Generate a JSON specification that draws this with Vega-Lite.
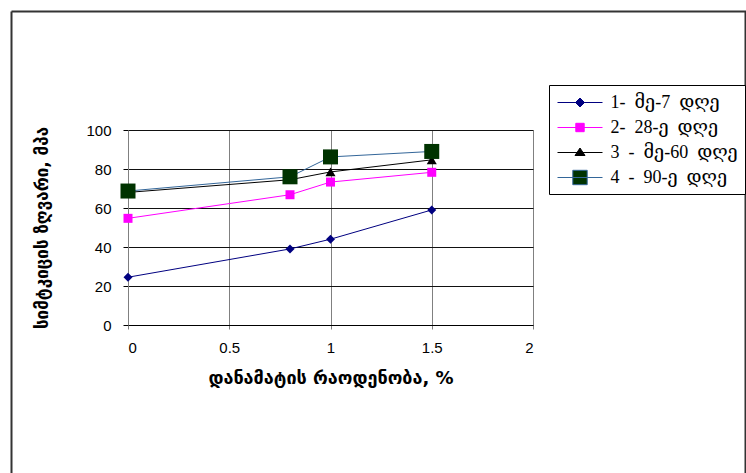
{
  "$schema": "https://vega.github.io/schema/vega-lite/v6.json",
  "width": 405,
  "height": 195,
  "autosize": "none",
  "padding": {"left": 128, "top": 130, "right": 213, "bottom": 148},
  "background": "white",
  "config": {
    "view": {"stroke": null},
    "axis": {"labelColor": "black", "titleColor": "black"}
  },
  "datasets": {
    "strength": [
      {"s": "1- მე-7 დღე", "d": 0, "v": 24.5},
      {"s": "1- მე-7 დღე", "d": 0.8, "v": 39},
      {"s": "1- მე-7 დღე", "d": 1, "v": 44},
      {"s": "1- მე-7 დღე", "d": 1.5, "v": 59},
      {"s": "2- 28-ე დღე", "d": 0, "v": 54.7},
      {"s": "2- 28-ე დღე", "d": 0.8, "v": 66.8},
      {"s": "2- 28-ე დღე", "d": 1, "v": 73.3},
      {"s": "2- 28-ე დღე", "d": 1.5, "v": 78.3},
      {"s": "3 - მე-60 დღე", "d": 0, "v": 68},
      {"s": "3 - მე-60 დღე", "d": 0.8, "v": 74.5},
      {"s": "3 - მე-60 დღე", "d": 1, "v": 78.5},
      {"s": "3 - მე-60 დღე", "d": 1.5, "v": 84.7},
      {"s": "4 - 90-ე დღე", "d": 0, "v": 68.7},
      {"s": "4 - 90-ე დღე", "d": 0.8, "v": 76},
      {"s": "4 - 90-ე დღე", "d": 1, "v": 86.2},
      {"s": "4 - 90-ე დღე", "d": 1.5, "v": 89}
    ],
    "frame": [{"fx": 0.5, "fy": 0.5}]
  },
  "layer": [
    {
      "data": {"name": "frame"},
      "mark": {"type": "point", "opacity": 0, "size": 1},
      "encoding": {
        "x": {
          "field": "fx", "type": "quantitative",
          "scale": {"domain": [0, 1], "range": [-117, 618]},
          "axis": {"orient": "top", "offset": 119, "title": null, "labels": false, "ticks": false, "grid": false, "domainColor": "#333333", "domainWidth": 2}
        },
        "y": {
          "field": "fy", "type": "quantitative",
          "scale": {"domain": [0, 1], "range": [343, -119]},
          "axis": {"orient": "left", "offset": 117, "title": null, "labels": false, "ticks": false, "grid": false, "domainColor": "#333333", "domainWidth": 2}
        }
      }
    },
    {
      "data": {"name": "frame"},
      "mark": {"type": "point", "opacity": 0, "size": 1},
      "encoding": {
        "y": {
          "field": "fy", "type": "quantitative",
          "scale": {"domain": [0, 1], "range": [343, -119]},
          "axis": {"orient": "right", "offset": 212, "title": null, "labels": false, "ticks": false, "grid": false, "domainColor": "#333333", "domainWidth": 2}
        }
      }
    },
    {
      "data": {"name": "strength"},
      "encoding": {
        "x": {
          "field": "d", "type": "quantitative",
          "scale": {"domain": [0, 2], "nice": false},
          "axis": {
            "orient": "bottom", "values": [0, 0.5, 1, 1.5, 2], "format": "~g",
            "title": "დანამატის რაოდენობა, %",
            "grid": true, "gridColor": "#808080", "gridWidth": 1,
            "domainColor": "#000000", "tickColor": "#808080", "tickSize": 4,
            "labelFont": "Liberation Sans", "labelFontSize": 15, "labelPadding": 11,
            "titleFont": "DejaVu Sans", "titleFontSize": 18, "titleFontWeight": "bold", "titlePadding": 14
          }
        },
        "y": {
          "field": "v", "type": "quantitative",
          "scale": {"domain": [0, 100], "nice": false},
          "axis": {
            "orient": "left", "values": [0, 20, 40, 60, 80, 100], "format": "d",
            "title": "სიმტკიცის ზღვარი, მპა",
            "grid": true, "gridColor": "#111111", "gridWidth": 1,
            "domainColor": "#808080", "tickColor": "#000000", "tickSize": 5,
            "labelFont": "Liberation Sans", "labelFontSize": 15, "labelPadding": 12,
            "titleFont": "DejaVu Sans", "titleFontSize": 17, "titleFontWeight": "bold", "titlePadding": 34
          }
        }
      },
      "layer": [
        {
          "mark": {"type": "line", "strokeWidth": 1},
          "encoding": {
            "color": {
              "field": "s", "type": "nominal",
              "scale": {
                "domain": ["1- მე-7 დღე", "2- 28-ე დღე", "3 - მე-60 დღე", "4 - 90-ე დღე"],
                "range": ["#000080", "#FF00FF", "#000000", "#336699"]
              },
              "legend": {
                "orient": "none", "legendX": 421, "legendY": -45,
                "title": null,
                "strokeColor": "#000000", "fillColor": "white", "padding": 7,
                "symbolSize": 400, "symbolStrokeWidth": 1, "symbolOffset": 13.5,
                "labelFont": "Liberation Serif, DejaVu Serif", "labelFontSize": 18, "labelColor": "black",
                "labelOffset": 20, "rowPadding": 5, "labelLimit": 400,
                "labelExpr": "replace(datum.label, regexp(' ', 'g'), '\u00a0\u00a0')",
                "encode": {
                  "symbols": {
                    "update": {
                      "shape": {"signal": "['M-2.25,0L2.25,0M0,-0.45L0.45,0L0,0.45L-0.45,0Z','M-2.25,0L2.25,0M-0.42,-0.42L0.42,-0.42L0.42,0.42L-0.42,0.42Z','M-2.25,0L2.25,0M0,-0.45L0.5,0.3L-0.5,0.3Z','M-2.25,0L2.25,0M-0.72,-0.72L0.72,-0.72L0.72,0.72L-0.72,0.72Z'][indexof(['1- მე-7 დღე','2- 28-ე დღე','3 - მე-60 დღე','4 - 90-ე დღე'], datum.value)]"},
                      "fill": {"signal": "['#000080','#FF00FF','#000000','#003300'][indexof(['1- მე-7 დღე','2- 28-ე დღე','3 - მე-60 დღე','4 - 90-ე დღე'], datum.value)]"},
                      "stroke": {"signal": "['#000080','#FF00FF','#000000','#336699'][indexof(['1- მე-7 დღე','2- 28-ე დღე','3 - მე-60 დღე','4 - 90-ე დღე'], datum.value)]"},
                      "strokeWidth": {"value": 1},
                      "opacity": {"value": 1}
                    }
                  }
                }
              }
            }
          }
        },
        {
          "transform": [{"filter": {"field": "s", "equal": "1- მე-7 დღე"}}],
          "mark": {"type": "point", "shape": "diamond", "size": 81, "filled": true, "color": "#000080", "opacity": 1}
        },
        {
          "transform": [{"filter": {"field": "s", "equal": "2- 28-ე დღე"}}],
          "mark": {"type": "point", "shape": "square", "size": 81, "filled": true, "color": "#FF00FF", "opacity": 1}
        },
        {
          "transform": [{"filter": {"field": "s", "equal": "3 - მე-60 დღე"}}],
          "mark": {"type": "point", "shape": "triangle-up", "size": 100, "filled": true, "color": "#000000", "opacity": 1}
        },
        {
          "transform": [{"filter": {"field": "s", "equal": "4 - 90-ე დღე"}}],
          "mark": {"type": "point", "shape": "square", "size": 225, "filled": true, "color": "#003300", "opacity": 1}
        }
      ]
    }
  ],
  "resolve": {"scale": {"x": "independent", "y": "independent"}}
}
